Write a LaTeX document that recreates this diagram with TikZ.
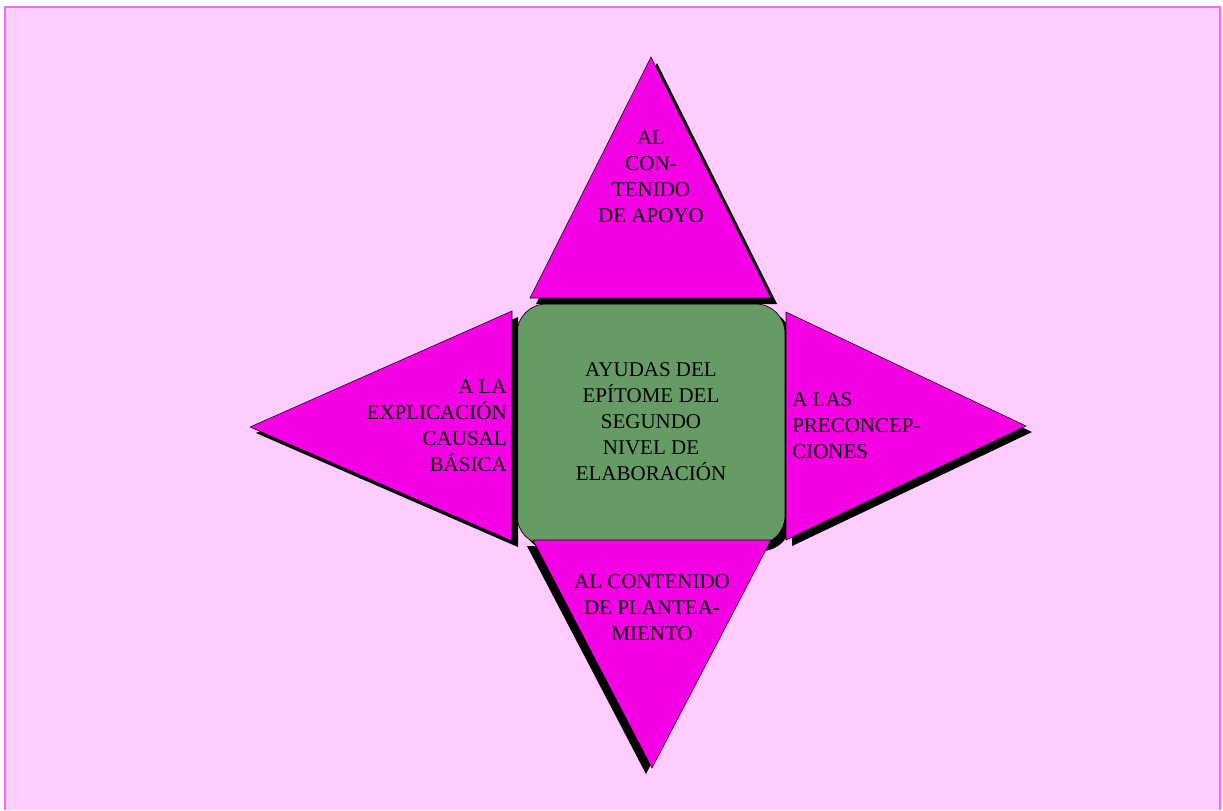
\documentclass[tikz,border=0pt]{standalone}
\usepackage{fontspec}
\setmainfont{Liberation Serif}
\usetikzlibrary{positioning}
\definecolor{bgpink}{RGB}{255,204,255}
\definecolor{framepink}{RGB}{255,102,255}
\definecolor{tipmag}{RGB}{245,0,228}
\definecolor{hubgreen}{RGB}{102,155,102}
\tikzset{
  tip/.style={fill=tipmag, draw=black, line width=0.4pt},
  tipshadow/.style={fill=black},
  hub/.style={fill=hubgreen, draw=black, line width=0.5pt, rounded corners=22pt},
  lbl/.style={font=\fontsize{15.75}{19.5}\selectfont, inner sep=0pt}
}

\begin{document}
\begin{tikzpicture}[x=0.75pt, y=-0.75pt]
  \useasboundingbox (0,0) rectangle (1223,810);
  % background sheet
  \fill[white] (0,0) rectangle (1223,810);
  \fill[bgpink] (5,7) rectangle (1220,810);
  \draw[framepink, line width=1.2pt] (5,810) -- (5,7) -- (1220,7) -- (1220,810);

  % centre box
  \fill[tipshadow, rounded corners=22pt] (523,310) rectangle (791,551);
  \draw[hub] (517,304) rectangle (785,545);

  % top triangle
  \fill[tipshadow] (657,63) -- (777,304) -- (536,304) -- cycle;
  \draw[tip] (651,57) -- (771,298) -- (530,298) -- cycle;

  % left triangle
  \fill[tipshadow] (256,433) -- (518,317) -- (518,547) -- cycle;
  \draw[tip] (250,427) -- (512,311) -- (512,541) -- cycle;

  % right triangle
  \fill[tipshadow] (1032,432) -- (792,318) -- (792,546) -- cycle;
  \draw[tip] (1026,426) -- (786,312) -- (786,540) -- cycle;

  % bottom triangle
  \fill[tipshadow] (646,774) -- (527,546) -- (765,546) -- cycle;
  \draw[tip] (652,768) -- (533,540) -- (771,540) -- cycle;

  % labels
  \node[lbl, align=center] (apoyo) at (651,177) {AL\\CON-\\TENIDO\\DE APOYO};
  \node[lbl, align=right, anchor=east] (causal) at (507,426) {A LA\\EXPLICACIÓN\\CAUSAL\\BÁSICA};
  \node[lbl, align=left, anchor=west] (precon) at (792,426) {A LAS\\PRECONCEP-\\CIONES};
  \node[lbl, align=center] (epitome) at (651,422) {AYUDAS DEL\\EPÍTOME DEL\\SEGUNDO\\NIVEL DE\\ELABORACIÓN};
  \node[lbl, align=center] (plantea) at (652,608) {AL CONTENIDO\\DE PLANTEA-\\MIENTO};
\end{tikzpicture}
\end{document}
